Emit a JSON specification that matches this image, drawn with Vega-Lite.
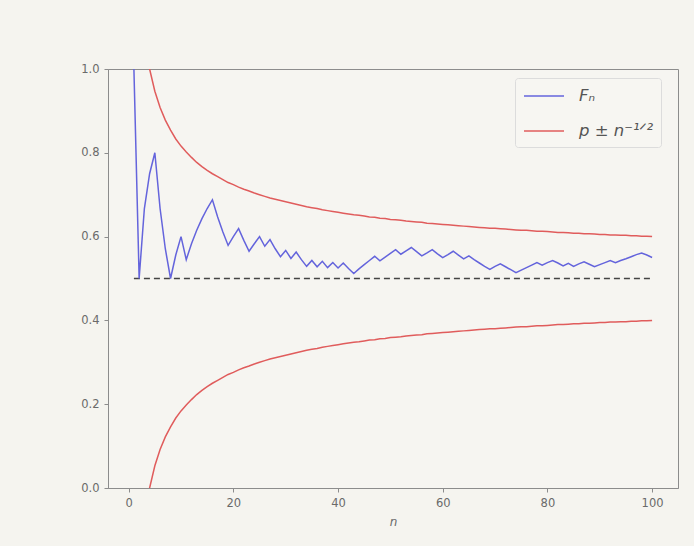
{
  "$schema": "https://vega.github.io/schema/vega-lite/v6.json",
  "width": 570,
  "height": 419,
  "autosize": {"type": "none"},
  "padding": {"left": 108, "top": 69, "right": 16, "bottom": 58},
  "background": "#f5f4ef",
  "config": {
    "font": "DejaVu Sans",
    "view": {"stroke": "#8c8c8c", "strokeWidth": 1, "fill": "#f6f5f1"},
    "axis": {
      "grid": false,
      "domainColor": "#8c8c8c",
      "tickColor": "#8c8c8c",
      "tickSize": 4,
      "labelColor": "#6a6a6a",
      "labelFontSize": 11.5,
      "labelPadding": 5,
      "titleColor": "#6a6a6a",
      "titleFontWeight": "normal",
      "titleFontSize": 12
    },
    "legend": {
      "orient": "none",
      "legendX": 407,
      "legendY": 9,
      "strokeColor": "#dcdcdc",
      "fillColor": "#f7f6f2",
      "padding": 7,
      "cornerRadius": 3,
      "symbolType": "M-2,0H2",
      "symbolSize": 400,
      "symbolOffset": 11,
      "symbolStrokeWidth": 1.6,
      "labelFontSize": 16.5,
      "labelFontStyle": "italic",
      "labelColor": "#555555",
      "labelOffset": 24,
      "rowPadding": 15
    }
  },
  "datasets": {
    "freq": [
      {"n":1,"F":1},{"n":2,"F":0.5},{"n":3,"F":0.667},{"n":4,"F":0.75},{"n":5,"F":0.8},
      {"n":6,"F":0.667},{"n":7,"F":0.571},{"n":8,"F":0.5},{"n":9,"F":0.556},{"n":10,"F":0.6},
      {"n":11,"F":0.545},{"n":12,"F":0.583},{"n":13,"F":0.615},{"n":14,"F":0.643},{"n":15,"F":0.667},
      {"n":16,"F":0.688},{"n":17,"F":0.647},{"n":18,"F":0.611},{"n":19,"F":0.579},{"n":20,"F":0.6},
      {"n":21,"F":0.619},{"n":22,"F":0.591},{"n":23,"F":0.565},{"n":24,"F":0.583},{"n":25,"F":0.6},
      {"n":26,"F":0.577},{"n":27,"F":0.593},{"n":28,"F":0.571},{"n":29,"F":0.552},{"n":30,"F":0.567},
      {"n":31,"F":0.548},{"n":32,"F":0.563},{"n":33,"F":0.545},{"n":34,"F":0.529},{"n":35,"F":0.543},
      {"n":36,"F":0.528},{"n":37,"F":0.541},{"n":38,"F":0.526},{"n":39,"F":0.538},{"n":40,"F":0.525},
      {"n":41,"F":0.537},{"n":42,"F":0.524},{"n":43,"F":0.512},{"n":44,"F":0.523},{"n":45,"F":0.533},
      {"n":46,"F":0.543},{"n":47,"F":0.553},{"n":48,"F":0.542},{"n":49,"F":0.551},{"n":50,"F":0.56},
      {"n":51,"F":0.569},{"n":52,"F":0.558},{"n":53,"F":0.566},{"n":54,"F":0.574},{"n":55,"F":0.564},
      {"n":56,"F":0.554},{"n":57,"F":0.561},{"n":58,"F":0.569},{"n":59,"F":0.559},{"n":60,"F":0.55},
      {"n":61,"F":0.557},{"n":62,"F":0.565},{"n":63,"F":0.556},{"n":64,"F":0.547},{"n":65,"F":0.554},
      {"n":66,"F":0.545},{"n":67,"F":0.537},{"n":68,"F":0.529},{"n":69,"F":0.522},{"n":70,"F":0.529},
      {"n":71,"F":0.535},{"n":72,"F":0.528},{"n":73,"F":0.521},{"n":74,"F":0.514},{"n":75,"F":0.52},
      {"n":76,"F":0.526},{"n":77,"F":0.532},{"n":78,"F":0.538},{"n":79,"F":0.532},{"n":80,"F":0.538},
      {"n":81,"F":0.543},{"n":82,"F":0.537},{"n":83,"F":0.53},{"n":84,"F":0.536},{"n":85,"F":0.529},
      {"n":86,"F":0.535},{"n":87,"F":0.54},{"n":88,"F":0.534},{"n":89,"F":0.528},{"n":90,"F":0.533},
      {"n":91,"F":0.538},{"n":92,"F":0.543},{"n":93,"F":0.538},{"n":94,"F":0.543},{"n":95,"F":0.547},
      {"n":96,"F":0.552},{"n":97,"F":0.557},{"n":98,"F":0.561},{"n":99,"F":0.556},{"n":100,"F":0.55}
    ],
    "bounds": [
      {"n":1,"upper":1.5,"lower":-0.5},{"n":2,"upper":1.207,"lower":-0.207},{"n":3,"upper":1.077,"lower":-0.077},
      {"n":4,"upper":1.0,"lower":0.0},{"n":5,"upper":0.947,"lower":0.053},{"n":6,"upper":0.908,"lower":0.092},
      {"n":7,"upper":0.878,"lower":0.122},{"n":8,"upper":0.854,"lower":0.146},{"n":9,"upper":0.833,"lower":0.167},
      {"n":10,"upper":0.816,"lower":0.184},{"n":11,"upper":0.802,"lower":0.198},{"n":12,"upper":0.789,"lower":0.211},
      {"n":13,"upper":0.777,"lower":0.223},{"n":14,"upper":0.767,"lower":0.233},{"n":15,"upper":0.758,"lower":0.242},
      {"n":16,"upper":0.75,"lower":0.25},{"n":17,"upper":0.743,"lower":0.257},{"n":18,"upper":0.736,"lower":0.264},
      {"n":19,"upper":0.729,"lower":0.271},{"n":20,"upper":0.724,"lower":0.276},{"n":21,"upper":0.718,"lower":0.282},
      {"n":22,"upper":0.713,"lower":0.287},{"n":23,"upper":0.709,"lower":0.291},{"n":24,"upper":0.704,"lower":0.296},
      {"n":25,"upper":0.7,"lower":0.3},{"n":26,"upper":0.696,"lower":0.304},{"n":27,"upper":0.692,"lower":0.308},
      {"n":28,"upper":0.689,"lower":0.311},{"n":29,"upper":0.686,"lower":0.314},{"n":30,"upper":0.683,"lower":0.317},
      {"n":31,"upper":0.68,"lower":0.32},{"n":32,"upper":0.677,"lower":0.323},{"n":33,"upper":0.674,"lower":0.326},
      {"n":34,"upper":0.671,"lower":0.329},{"n":35,"upper":0.669,"lower":0.331},{"n":36,"upper":0.667,"lower":0.333},
      {"n":37,"upper":0.664,"lower":0.336},{"n":38,"upper":0.662,"lower":0.338},{"n":39,"upper":0.66,"lower":0.34},
      {"n":40,"upper":0.658,"lower":0.342},{"n":41,"upper":0.656,"lower":0.344},{"n":42,"upper":0.654,"lower":0.346},
      {"n":43,"upper":0.652,"lower":0.348},{"n":44,"upper":0.651,"lower":0.349},{"n":45,"upper":0.649,"lower":0.351},
      {"n":46,"upper":0.647,"lower":0.353},{"n":47,"upper":0.646,"lower":0.354},{"n":48,"upper":0.644,"lower":0.356},
      {"n":49,"upper":0.643,"lower":0.357},{"n":50,"upper":0.641,"lower":0.359},{"n":51,"upper":0.64,"lower":0.36},
      {"n":52,"upper":0.639,"lower":0.361},{"n":53,"upper":0.637,"lower":0.363},{"n":54,"upper":0.636,"lower":0.364},
      {"n":55,"upper":0.635,"lower":0.365},{"n":56,"upper":0.634,"lower":0.366},{"n":57,"upper":0.632,"lower":0.368},
      {"n":58,"upper":0.631,"lower":0.369},{"n":59,"upper":0.63,"lower":0.37},{"n":60,"upper":0.629,"lower":0.371},
      {"n":61,"upper":0.628,"lower":0.372},{"n":62,"upper":0.627,"lower":0.373},{"n":63,"upper":0.626,"lower":0.374},
      {"n":64,"upper":0.625,"lower":0.375},{"n":65,"upper":0.624,"lower":0.376},{"n":66,"upper":0.623,"lower":0.377},
      {"n":67,"upper":0.622,"lower":0.378},{"n":68,"upper":0.621,"lower":0.379},{"n":69,"upper":0.62,"lower":0.38},
      {"n":70,"upper":0.62,"lower":0.38},{"n":71,"upper":0.619,"lower":0.381},{"n":72,"upper":0.618,"lower":0.382},
      {"n":73,"upper":0.617,"lower":0.383},{"n":74,"upper":0.616,"lower":0.384},{"n":75,"upper":0.615,"lower":0.385},
      {"n":76,"upper":0.615,"lower":0.385},{"n":77,"upper":0.614,"lower":0.386},{"n":78,"upper":0.613,"lower":0.387},
      {"n":79,"upper":0.613,"lower":0.387},{"n":80,"upper":0.612,"lower":0.388},{"n":81,"upper":0.611,"lower":0.389},
      {"n":82,"upper":0.61,"lower":0.39},{"n":83,"upper":0.61,"lower":0.39},{"n":84,"upper":0.609,"lower":0.391},
      {"n":85,"upper":0.608,"lower":0.392},{"n":86,"upper":0.608,"lower":0.392},{"n":87,"upper":0.607,"lower":0.393},
      {"n":88,"upper":0.607,"lower":0.393},{"n":89,"upper":0.606,"lower":0.394},{"n":90,"upper":0.605,"lower":0.395},
      {"n":91,"upper":0.605,"lower":0.395},{"n":92,"upper":0.604,"lower":0.396},{"n":93,"upper":0.604,"lower":0.396},
      {"n":94,"upper":0.603,"lower":0.397},{"n":95,"upper":0.603,"lower":0.397},{"n":96,"upper":0.602,"lower":0.398},
      {"n":97,"upper":0.602,"lower":0.398},{"n":98,"upper":0.601,"lower":0.399},{"n":99,"upper":0.601,"lower":0.399},
      {"n":100,"upper":0.6,"lower":0.4}
    ],
    "pline": [{"start": 1, "end": 100, "p": 0.5}]
  },
  "layer": [
    {
      "data": {"name": "pline"},
      "mark": {"type": "rule", "color": "#444444", "strokeWidth": 1.4, "strokeDash": [6, 4]},
      "encoding": {
        "x": {"field": "start", "type": "quantitative"},
        "x2": {"field": "end"},
        "y": {"field": "p", "type": "quantitative"}
      }
    },
    {
      "data": {"name": "freq"},
      "mark": {"type": "line", "strokeWidth": 1.5, "clip": true},
      "encoding": {
        "x": {"field": "n", "type": "quantitative", "scale": {"domain": [-3.95, 104.95], "nice": false, "zero": false},
              "axis": {"values": [0, 20, 40, 60, 80, 100], "title": "n", "titleFontStyle": "italic", "titlePadding": 8}},
        "y": {"field": "F", "type": "quantitative", "scale": {"domain": [0, 1], "nice": false},
              "axis": {"values": [0, 0.2, 0.4, 0.6, 0.8, 1.0], "format": ".1f", "title": null}},
        "color": {"datum": "Fₙ", "type": "nominal",
                  "scale": {"domain": ["Fₙ", "p ± n⁻¹ᐟ²"], "range": ["#6464dc", "#e05c5c"]},
                  "legend": {"title": null}}
      }
    },
    {
      "data": {"name": "bounds"},
      "mark": {"type": "line", "strokeWidth": 1.5, "clip": true},
      "encoding": {
        "x": {"field": "n", "type": "quantitative"},
        "y": {"field": "upper", "type": "quantitative"},
        "color": {"datum": "p ± n⁻¹ᐟ²", "type": "nominal"}
      }
    },
    {
      "data": {"name": "bounds"},
      "mark": {"type": "line", "strokeWidth": 1.5, "clip": true},
      "encoding": {
        "x": {"field": "n", "type": "quantitative"},
        "y": {"field": "lower", "type": "quantitative"},
        "color": {"datum": "p ± n⁻¹ᐟ²", "type": "nominal"}
      }
    }
  ]
}
